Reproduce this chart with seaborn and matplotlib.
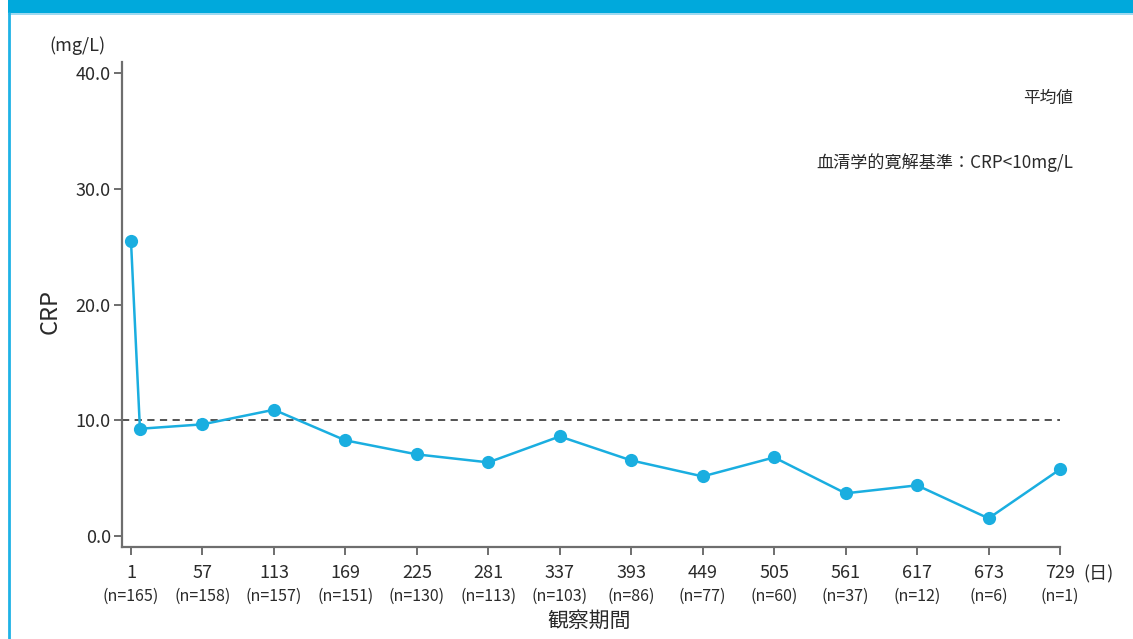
import matplotlib
matplotlib.use("Agg")
import matplotlib.pyplot as plt
import matplotlib.transforms as mtransforms
from matplotlib.patches import Rectangle
from matplotlib.lines import Line2D
import seaborn as sns
import pandas as pd

# ---- data ----
days = [1, 8, 57, 113, 169, 225, 281, 337, 393, 449, 505, 561, 617, 673, 729]
crp = [25.45, 9.28, 9.66, 10.92, 8.28, 7.07, 6.38, 8.62, 6.55, 5.17, 6.81, 3.71, 4.40, 1.55, 5.78]
tick_days = [1, 57, 113, 169, 225, 281, 337, 393, 449, 505, 561, 617, 673, 729]
n_labels = ["(n=165)", "(n=158)", "(n=157)", "(n=151)", "(n=130)", "(n=113)", "(n=103)",
            "(n=86)", "(n=77)", "(n=60)", "(n=37)", "(n=12)", "(n=6)", "(n=1)"]
y_ticks = [0, 10, 20, 30, 40]
threshold = 10

BLUE = "#1AAEE0"
TXT = "#2a2a2a"
AX = "#6e6e6e"

sns.set_theme(style="ticks")
plt.rcParams["font.family"] = ["Noto Sans CJK JP", "DejaVu Sans"]

W, H = 1133, 639
fig = plt.figure(figsize=(W / 100, H / 100), dpi=100)
fig.patch.set_facecolor("white")

# header bar and left border
fig.patches.append(Rectangle((8 / W, 1 - 13 / H), 1 - 8 / W, 13 / H, transform=fig.transFigure,
                             facecolor="#00A9DC", edgecolor="none", zorder=0))
fig.patches.append(Rectangle((8 / W, 1 - 15 / H), 1 - 8 / W, 2 / H, transform=fig.transFigure,
                             facecolor="#9ED9F0", edgecolor="none", zorder=0))
fig.lines.append(Line2D([9 / W, 9 / W], [0, 1 - 13 / H], transform=fig.transFigure,
                        color="#1FB2E6", lw=2.0))

left, right = 122 / W, 1060 / W
bottom, top = 1 - 547 / H, 1 - 62 / H
ax = fig.add_axes([left, bottom, right - left, top - bottom])

df = pd.DataFrame({"day": days, "crp": crp})
ax.axhline(threshold, ls=(0, (4, 3)), color="#444444", lw=1.3, zorder=1)
sns.lineplot(data=df, x="day", y="crp", ax=ax, color=BLUE, linewidth=1.8,
             marker="o", markersize=9.5, markeredgewidth=0, zorder=3, clip_on=False)

ax.set_xlim(-6.05, 729)
ax.set_ylim(-0.92, 40.92)
ax.set_xticks(tick_days)
ax.set_xticklabels([str(d) for d in tick_days])
ax.set_yticks(y_ticks)
ax.set_yticklabels([f"{v:.1f}" for v in y_ticks])
ax.set_xlabel("")
ax.set_ylabel("")

for s in ["top", "right"]:
    ax.spines[s].set_visible(False)
for s in ["left", "bottom"]:
    ax.spines[s].set_color(AX)
    ax.spines[s].set_linewidth(1.6)

ax.tick_params(axis="both", direction="out", length=6, width=1.4, color=AX,
               labelcolor=TXT, labelsize=13)
ax.tick_params(axis="x", pad=6)
ax.tick_params(axis="y", pad=2)

blend = mtransforms.blended_transform_factory(ax.transData, ax.transAxes)
for d, n in zip(tick_days, n_labels):
    ax.annotate(n, xy=(d, 0), xycoords=blend, xytext=(0, -35.5), textcoords="offset points",
                ha="center", va="center", fontsize=11.5, color=TXT)
ax.annotate("(日)", xy=(729, 0), xycoords=blend, xytext=(28, -20), textcoords="offset points",
            ha="center", va="center", fontsize=13, color=TXT)

fig.text(77 / W, 1 - 46 / H, "(mg/L)", ha="center", va="center", fontsize=13, color=TXT)
fig.text(50 / W, 1 - 312 / H, "CRP", ha="center", va="center", rotation=90, fontsize=17, color=TXT)
fig.text(589 / W, 1 - 621 / H, "観察期間", ha="center", va="center", fontsize=15, color=TXT)
fig.text(1073 / W, 1 - 98 / H, "平均値", ha="right", va="center", fontsize=12, color=TXT)
fig.text(1073 / W, 1 - 163 / H, "血清学的寛解基準：CRP<10mg/L", ha="right", va="center",
         fontsize=12.3, color=TXT)

fig.savefig("out.png", dpi=100, facecolor="white")
